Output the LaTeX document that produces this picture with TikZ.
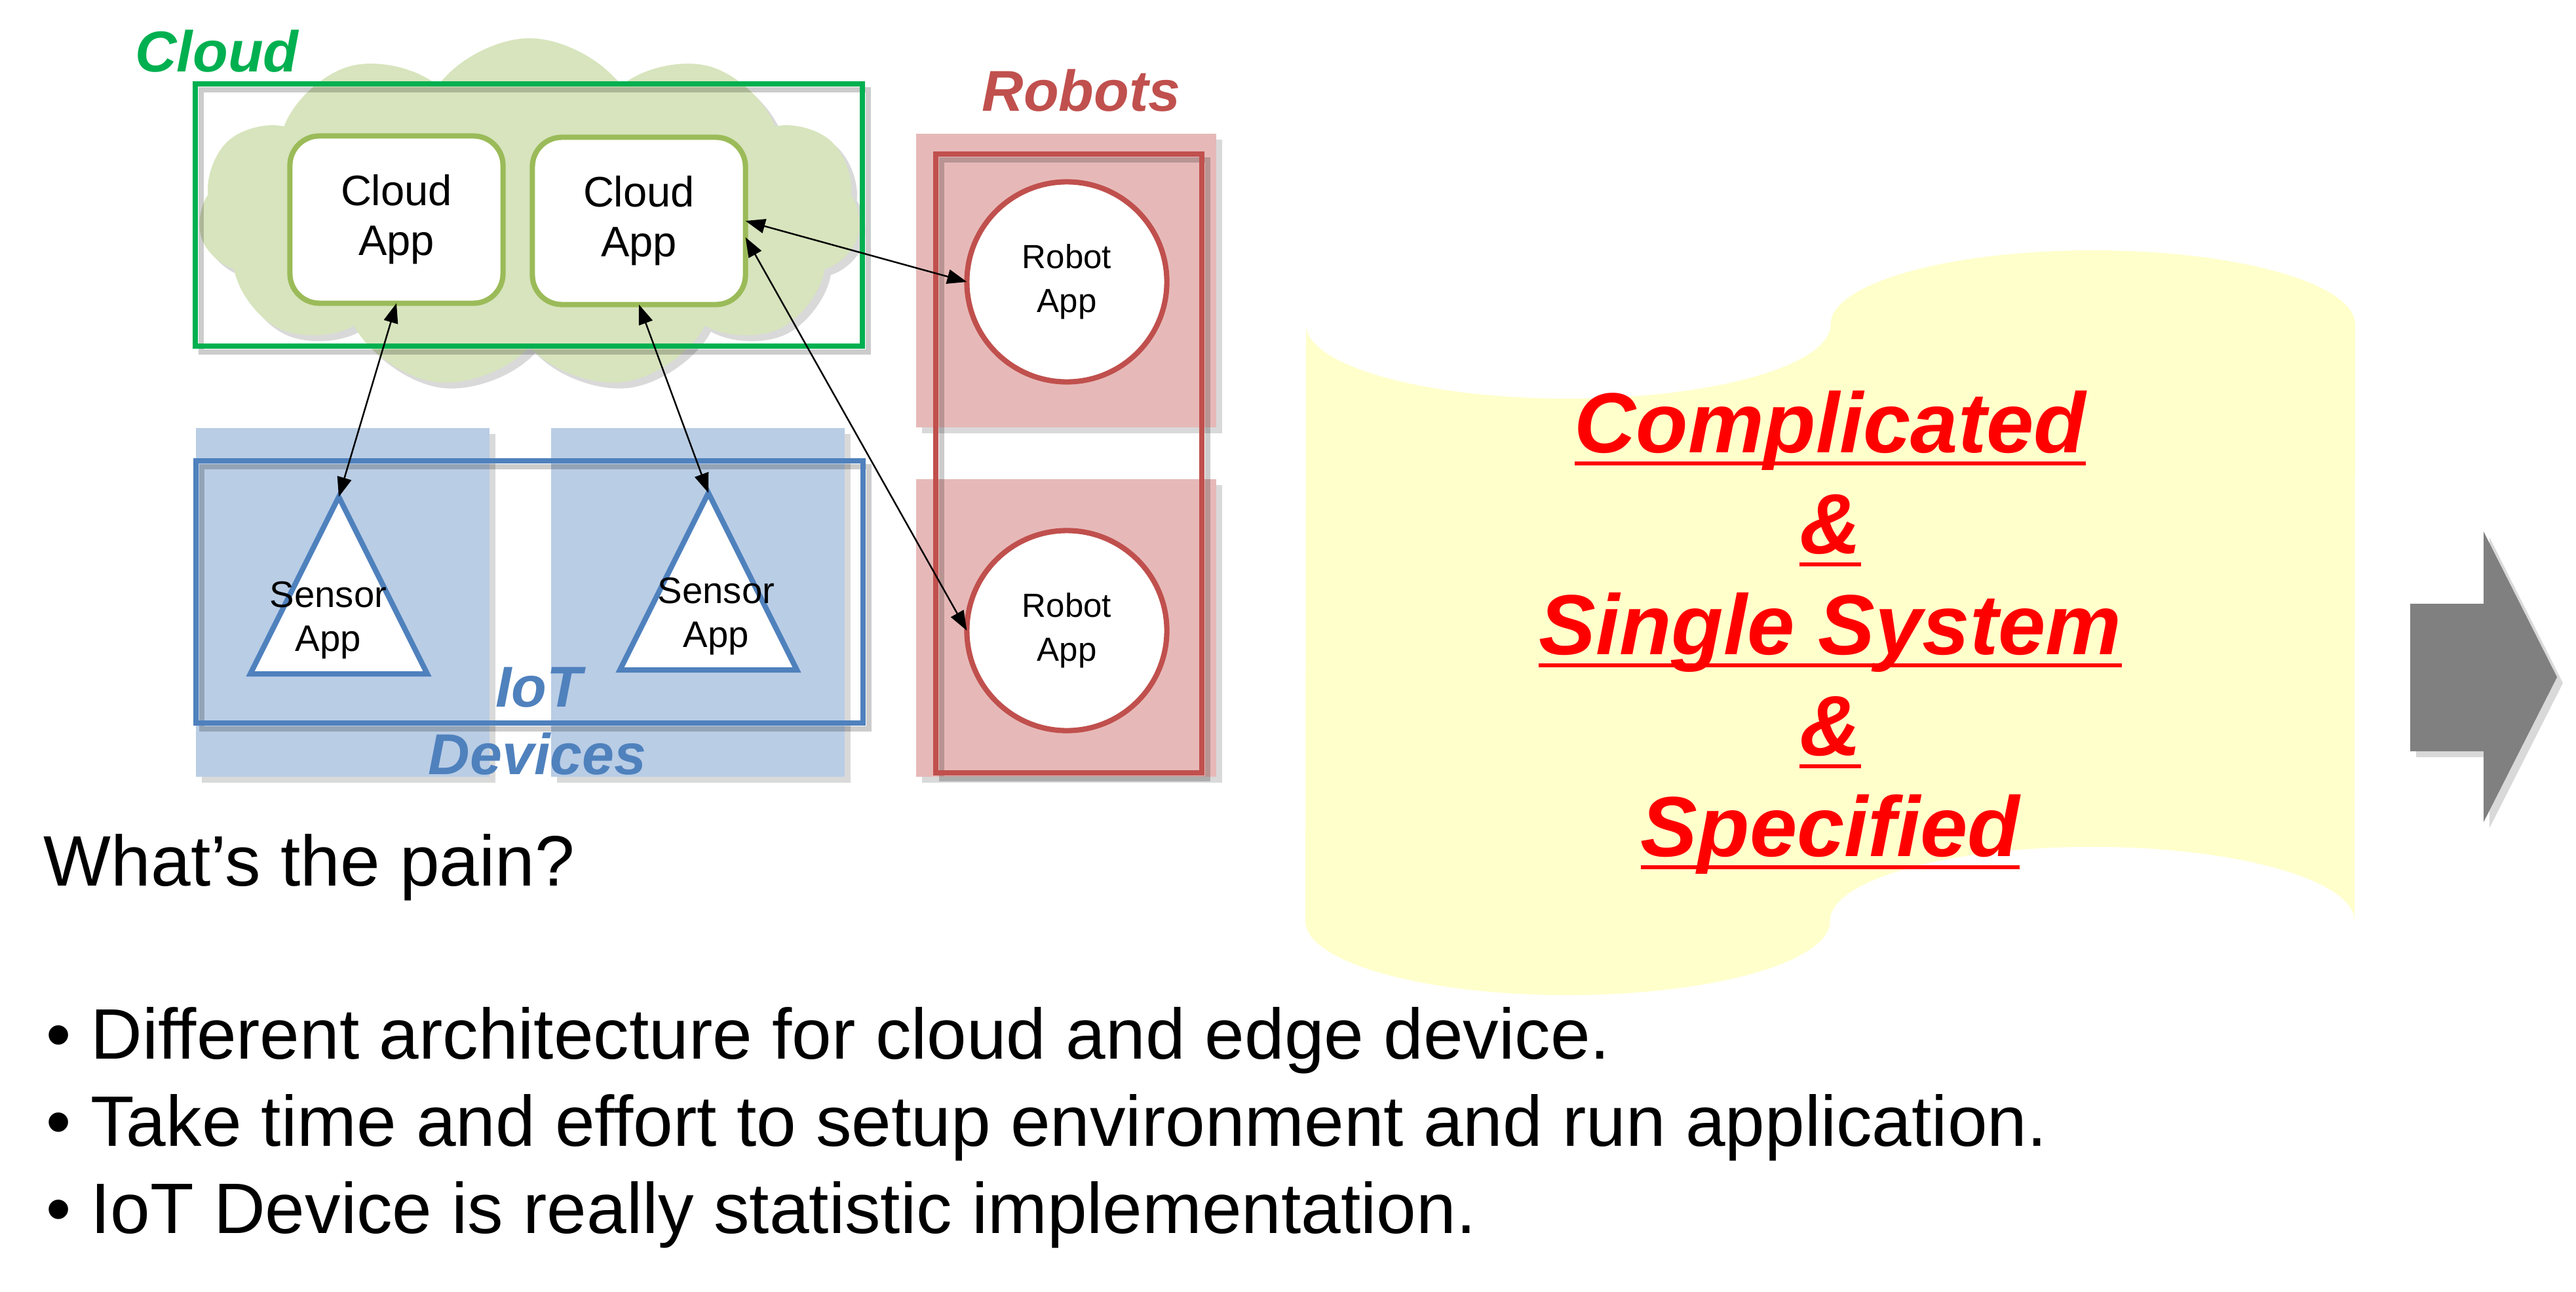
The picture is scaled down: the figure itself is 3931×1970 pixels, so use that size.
\documentclass[tikz,border=0pt]{standalone}
\usepackage{fontspec}
\setmainfont{Liberation Sans}
\usetikzlibrary{positioning,shapes.geometric,shapes.symbols,arrows.meta,shadows}

\definecolor{skygreen}{HTML}{D7E4BD}
\definecolor{framegreen}{HTML}{00B050}
\definecolor{appgreen}{HTML}{9BBB59}
\definecolor{iotpanel}{HTML}{B9CDE5}
\definecolor{iotblue}{HTML}{4F81BD}
\definecolor{robotpanel}{HTML}{E6B9B8}
\definecolor{robotred}{HTML}{C0504D}
\definecolor{scroll}{HTML}{FFFFCC}
\definecolor{nextgray}{HTML}{808080}

\newsavebox\ulbox
\newcommand\redul[1]{\sbox\ulbox{#1}\rlap{\rule[-5.6pt]{\wd\ulbox}{1.6pt}}\usebox\ulbox}

\begin{document}
\begin{tikzpicture}[x=0.01cm, y=-0.01cm, every node/.style={inner sep=0pt, outer sep=0pt},
  shade/.style={drop shadow={shadow xshift=0.9mm, shadow yshift=-0.9mm, opacity=0.3}},
  frameshade/.style={preaction={draw=black, draw opacity=0.2, transform canvas={shift={(0.9mm,-0.9mm)}}}},
  frame/.style={rectangle, line width=2.3pt, frameshade},
  panel/.style={rectangle, shade, minimum width=4.5cm},
  appbox/.style={rectangle, rounded corners=0.45cm, draw=appgreen, line width=2.3pt, fill=white,
    minimum width=3.25cm, minimum height=2.55cm, align=center, font=\fontsize{18.5}{21.6}\selectfont},
  robotapp/.style={circle, draw=robotred, line width=2.3pt, fill=white, minimum size=3.05cm,
    align=center, font=\fontsize{14.5}{19}\selectfont},
  sensorapp/.style={isosceles triangle, isosceles triangle stretches, shape border rotate=90,
    draw=iotblue, line width=2.3pt, fill=white, minimum width=2.7cm, minimum height=2.7cm},
  sensortext/.style={align=center, font=\fontsize{16}{19}\selectfont},
  tag/.style={anchor=base, font=\fontsize{25}{29}\selectfont\bfseries\itshape},
  slogan/.style={anchor=base, text=red, font=\fontsize{37}{44}\selectfont\bfseries\itshape},
  bigtext/.style={anchor=base west, font=\fontsize{31}{37}\selectfont},
  link/.style={{Triangle[length=3mm,width=2.2mm]}-{Triangle[length=3mm,width=2.2mm]}, line width=0.7pt}]
  \useasboundingbox (0,0) rectangle (3931,1970);

  % cloud side
  \node[cloud, cloud puffs=11, cloud puff arc=110, aspect=1.9, fill=skygreen, shade,
    minimum width=10.1cm, minimum height=5.35cm] (sky) at (808,326) {};
  \node[frame, draw=framegreen, minimum width=10.17cm, minimum height=4cm] (cloudframe) at (807,328) {};
  \node[appbox] (capp1) at (605,335) {Cloud\\App};
  \node[appbox] (capp2) at (975,337) {Cloud\\App};

  % iot side
  \node[panel, fill=iotpanel, minimum width=4.47cm, minimum height=5.32cm] (iotpanel1) at (523,919) {};
  \node[panel, fill=iotpanel, minimum width=4.47cm, minimum height=5.32cm] (iotpanel2) at (1065,919) {};
  \node[frame, draw=iotblue, minimum width=10.17cm, minimum height=4cm] (iotframe) at (808,903) {};
  \node[sensorapp, anchor=apex] (sensor1) at (517,758) {};
  \node[sensorapp, anchor=apex] (sensor2) at (1081,752) {};
  \node[sensortext] (sensorlbl1) at ([xshift=-0.16cm, yshift=-1.88cm]sensor1.apex) {Sensor\\App};
  \node[sensortext] (sensorlbl2) at ([xshift=0.12cm, yshift=-1.88cm]sensor2.apex) {Sensor\\App};

  % robot side
  \node[panel, fill=robotpanel, minimum width=4.57cm, minimum height=4.47cm] (robotpanel1) at (1627,428) {};
  \node[panel, fill=robotpanel, minimum width=4.57cm, minimum height=4.54cm] (robotpanel2) at (1627,958) {};
  \node[frame, draw=robotred, minimum width=4.05cm, minimum height=9.43cm] (robotframe) at (1631,707) {};
  \node[robotapp] (robot1) at (1628,430) {Robot\\App};
  \node[robotapp] (robot2) at (1628,962) {Robot\\App};

  \draw[link] (capp1.south) -- (sensor1.apex);
  \draw[link] (capp2.south) -- (sensor2.apex);
  \draw[link] (capp2.east) -- (robot1.west);
  \draw[link] ([yshift=-0.25cm]capp2.east) -- (robot2.west);

  \node[tag, text=framegreen] (cloudtag) at (331,110) {Cloud};
  \node[tag, text=robotred] (robottag) at (1650,170) {Robots};
  \node[tag, text=iotblue] (iottag) at (822,1078) {IoT};
  \node[tag, text=iotblue] (devtag) at (820,1181) {Devices};

  % scroll with the summary
  \fill[scroll] (1993,495) arc[start angle=180, end angle=360, x radius=4cm, y radius=1.13cm]
    arc[start angle=180, end angle=0, x radius=4cm, y radius=1.13cm] -- (3593,1405)
    arc[start angle=0, end angle=180, x radius=4cm, y radius=1.13cm]
    arc[start angle=0, end angle=-180, x radius=4cm, y radius=1.13cm] -- cycle;
  \foreach \txt [count=\i] in {Complicated,\&,Single System,\&,Specified}
    \node[slogan] (slogan\i) at (2793,536+154*\i) {\redul{\txt}};

  \fill[nextgray, shade] (3678,921) -- (3790,921) -- (3790,811) -- (3902,1033)
    -- (3790,1254) -- (3790,1146) -- (3678,1146) -- cycle;

  \node[bigtext] (pain) at (67,1351) {What’s the pain?};
  \node[bigtext] (pain1) at (70,1615) {\textbullet\ Different architecture for cloud and edge device.};
  \node[bigtext] (pain2) at (70,1748) {\textbullet\ Take time and effort to setup environment and run application.};
  \node[bigtext] (pain3) at (70,1881) {\textbullet\ IoT Device is really statistic implementation.};
\end{tikzpicture}
\end{document}
